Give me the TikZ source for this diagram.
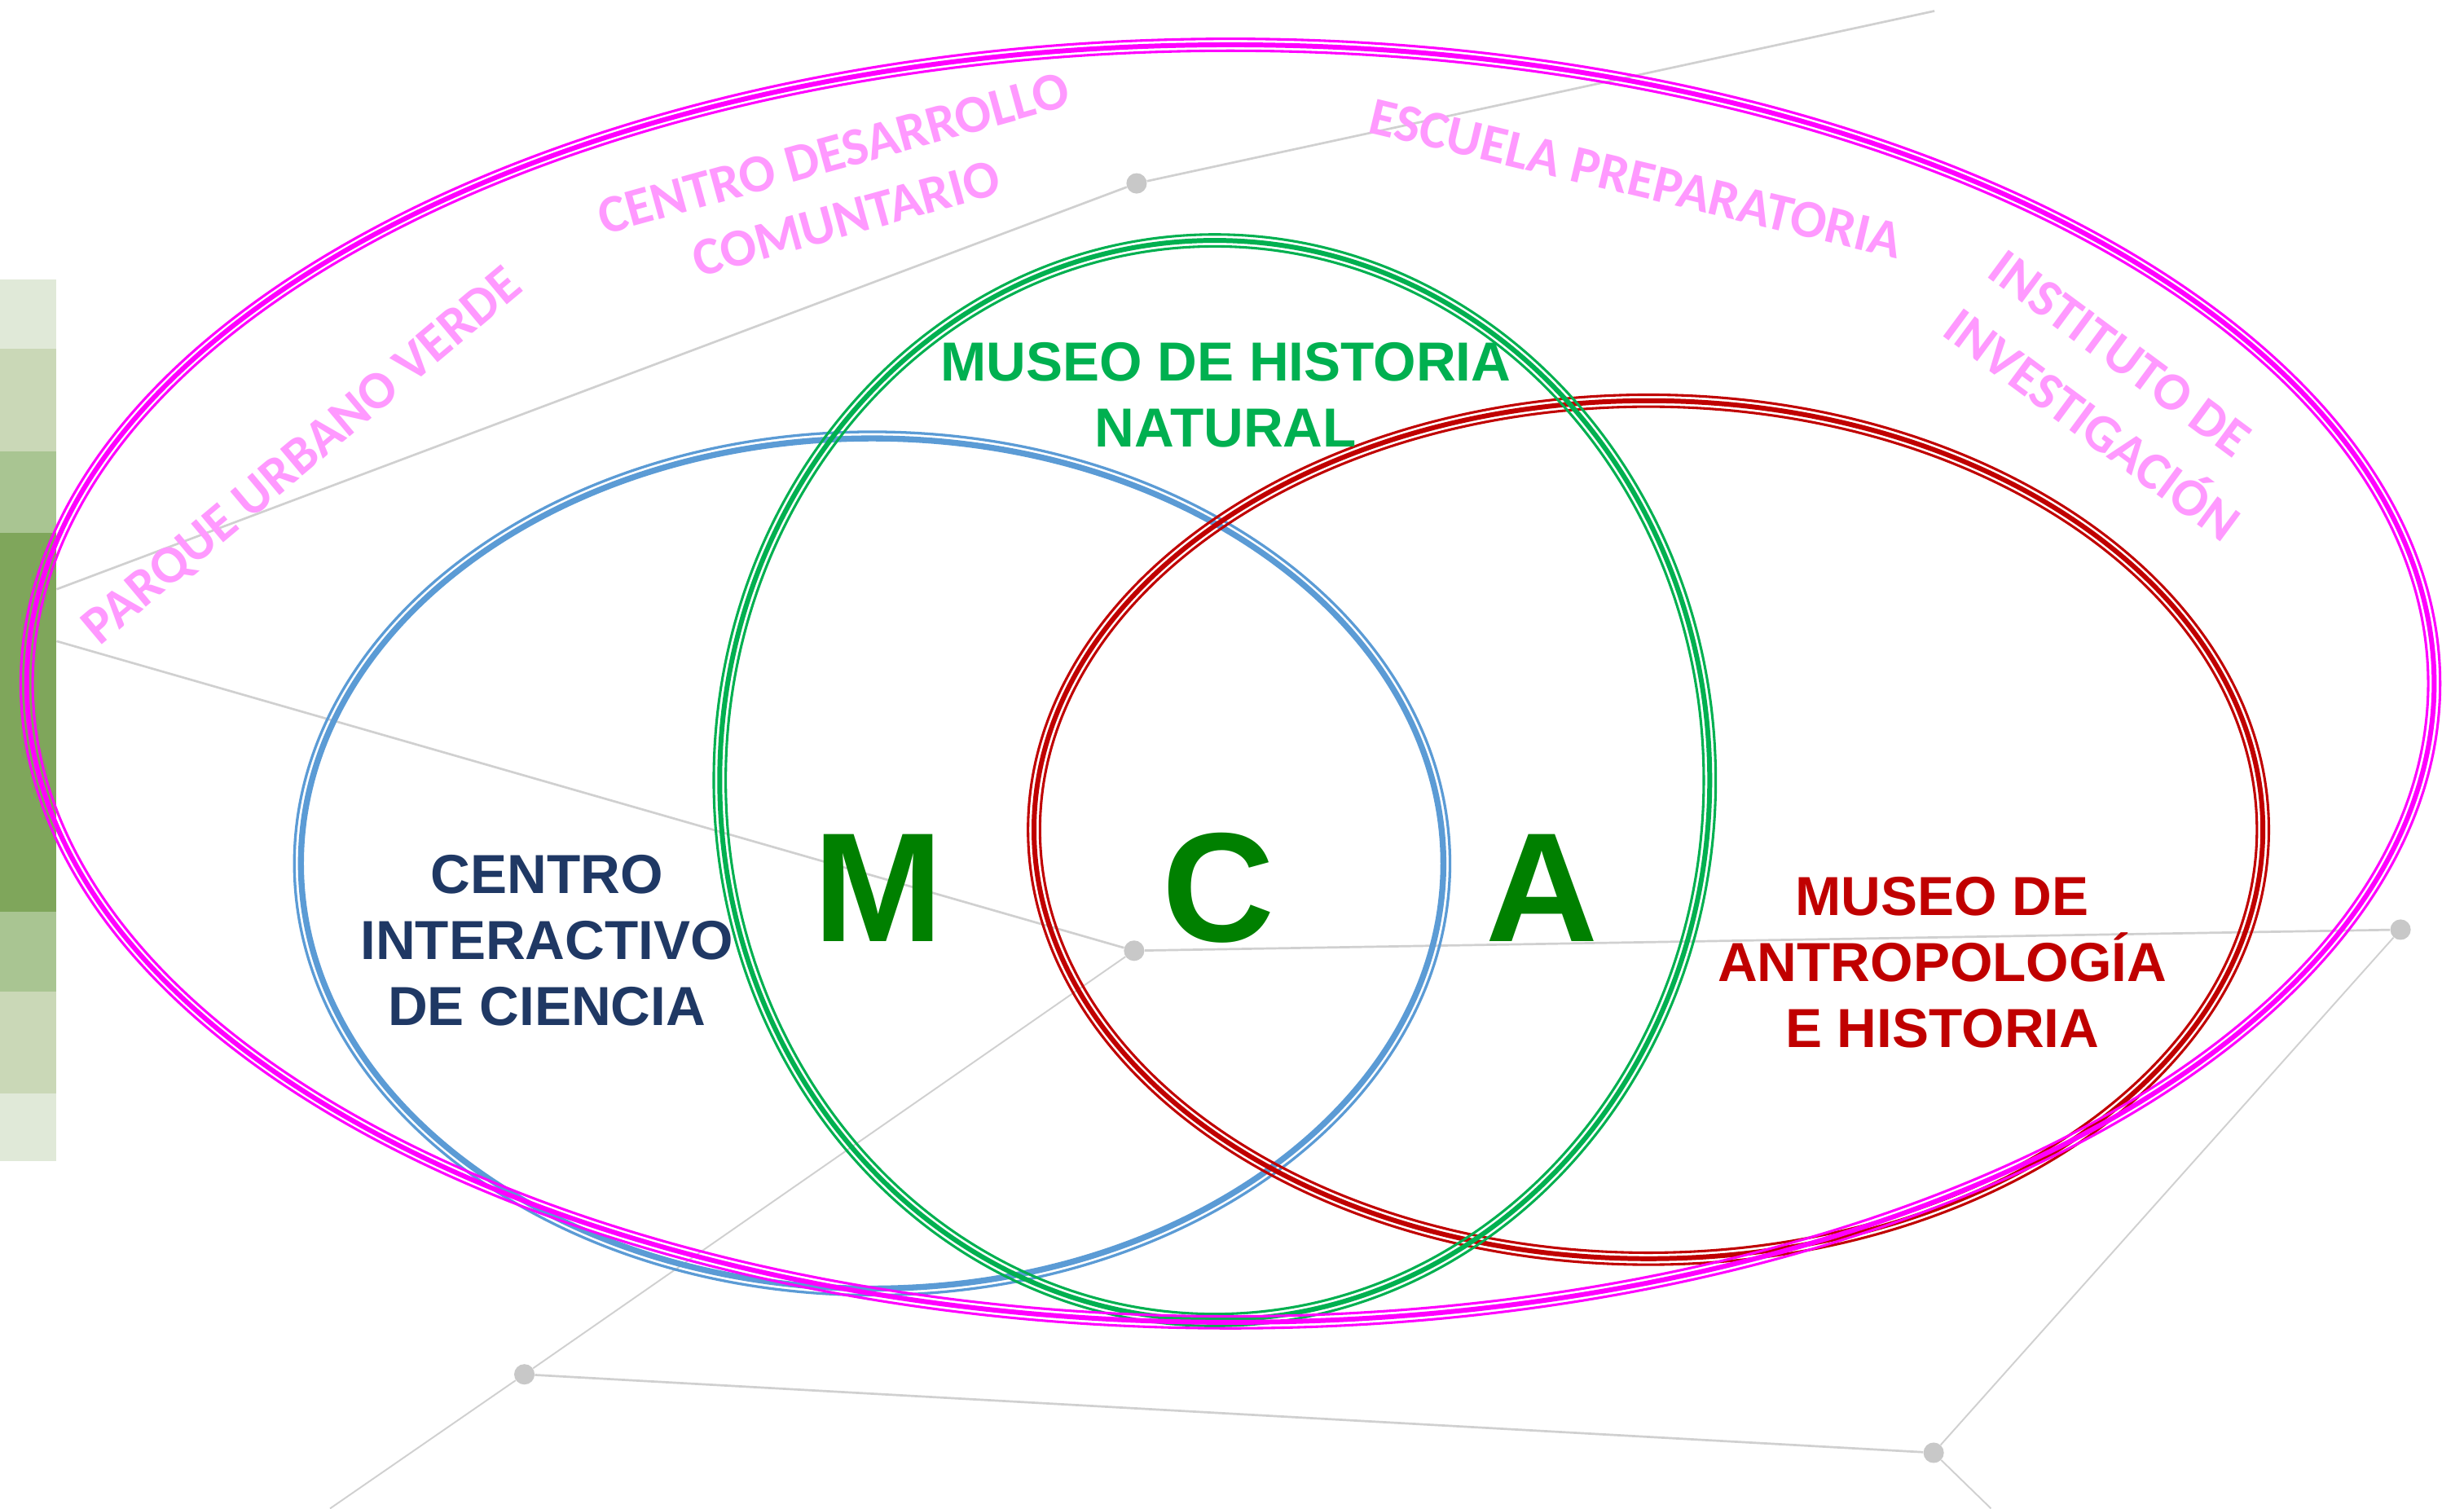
\documentclass[tikz,border=0pt]{standalone}
\usepackage{fontspec}
\setmainfont{Liberation Sans}
\newfontfamily\arcfont{Carlito}
\usepackage{tikz}
\usetikzlibrary{calc}

\definecolor{ringmagenta}{HTML}{FF00FF}
\definecolor{ringgreen}{HTML}{00B050}
\definecolor{ringblue}{HTML}{5B9BD5}
\definecolor{ringred}{HTML}{C00000}
\definecolor{navytext}{HTML}{1F3864}
\definecolor{pinktext}{HTML}{FF99FF}
\definecolor{lettergreen}{HTML}{008000}
\definecolor{linegray}{HTML}{D0D0D0}
\definecolor{dotgray}{HTML}{C8C8C8}
\definecolor{barpale}{HTML}{E0E9D8}
\definecolor{barlight}{HTML}{CAD8B7}
\definecolor{barmid}{HTML}{A9C592}
\definecolor{bardark}{HTML}{7FA65B}

\tikzset{
  grayline/.style={draw=linegray, line width=1.4},
  thingray/.style={draw=linegray, line width=1.0},
  hubdot/.style={circle, fill=dotgray, inner sep=0, minimum size=13},
  museumtext/.style={font=\bfseries\fontsize{35}{42}\selectfont, align=center, anchor=north, inner sep=0},
  bigletter/.style={font=\bfseries\fontsize{99}{99}\selectfont, text=lettergreen, anchor=base, inner sep=0},
  arclabel/.style={font=\arcfont\bfseries\fontsize{34}{40}\selectfont, text=pinktext, inner sep=0}
}

% three rings: thin, thick, thin
\newcommand{\triplering}[4]{%
  \draw[#1, line width=3.1] #2 ellipse ({#3} and {#4});
  \draw[#1, line width=1.6] #2 ellipse ({#3+3.8} and {#4+3.8});
  \draw[#1, line width=1.6] #2 ellipse ({#3-3.8} and {#4-3.8});
}

\begin{document}
\begin{tikzpicture}[x=1pt,y=-1pt]
  \useasboundingbox (0,0) rectangle (1568,960);

  % green bars at the left edge
  \foreach \ytop/\ybot/\shade in {178/222/barpale, 222/287/barlight, 287/339/barmid, 339/580/bardark, 580/631/barmid, 631/696/barlight, 696/739/barpale}
      \fill[\shade] (0,\ytop) rectangle (36,\ybot);

  % gray network in the background
  \node[hubdot] (hubtop) at (723.3,116.7) {};
  \node[hubdot] (hubmid) at (721.7,605) {};
  \node[hubdot] (hubright) at (1527.6,591.6) {};
  \node[hubdot] (hubleft) at (333.7,874.6) {};
  \node[hubdot] (hublow) at (1230.5,924.5) {};
  \coordinate (edgeup) at (36,375);
  \coordinate (edgedown) at (36,408);
  \coordinate (topend) at (1231,7);
  \coordinate (bottomleft) at (210,960);
  \coordinate (bottomright) at (1267,960);

  \draw[grayline] (edgeup) -- (hubtop);
  \draw[grayline] (hubtop) -- (topend);
  \draw[grayline] (edgedown) -- (hubmid);
  \draw[grayline] (hubmid) -- (hubright);
  \draw[thingray] (hubright) -- (hublow);
  \draw[grayline] (hublow) -- (hubleft);
  \draw[thingray] (hubleft) -- (hubmid);
  \draw[thingray] (hubleft) -- (bottomleft);
  \draw[thingray] (hublow) -- (bottomright);

  % blue ring: thick inside, thin outside
  \draw[ringblue, line width=3.8] (555,549.5) ellipse (363.5 and 270.5);
  \draw[ringblue, line width=1.7] (555,549.5) ellipse (367.7 and 274.7);

  \triplering{ringred}{(1049,528)}{391}{273}
  \triplering{ringgreen}{(773,496.5)}{315}{343.5}
  \triplering{ringmagenta}{(783,435)}{766}{406.5}

  % labels
  \node[museumtext, text=ringgreen] (natural) at (780,218) {MUSEO DE HISTORIA\\NATURAL};
  \node[museumtext, text=navytext] (ciencia) at (348,544) {CENTRO\\INTERACTIVO\\DE CIENCIA};
  \node[museumtext, text=ringred] (antropologia) at (1236,558) {MUSEO DE\\ANTROPOLOGÍA\\E HISTORIA};

  \node[bigletter] (letterm) at (558.8,599) {M};
  \node[bigletter] (letterc) at (775.6,599) {C};
  \node[bigletter] (lettera) at (981.5,599) {A};

  \node[arclabel, rotate=40] (parque) at (193,291) {PARQUE URBANO VERDE};
  \node[arclabel, rotate=15.5] (desarrollo) at (530.5,97.5) {CENTRO DESARROLLO};
  \node[arclabel, rotate=15.5] (comuntario) at (538.5,139) {COMUNTARIO};
  \node[arclabel, rotate=-13.4] (escuela) at (1041,113.6) {ESCUELA PREPARATORIA};
  \node[arclabel, rotate=-36.5] (instituto) at (1349,225) {INSTITUTO DE};
  \node[arclabel, rotate=-36.5] (investigacion) at (1333,268) {INVESTIGACIÓN};
\end{tikzpicture}
\end{document}
